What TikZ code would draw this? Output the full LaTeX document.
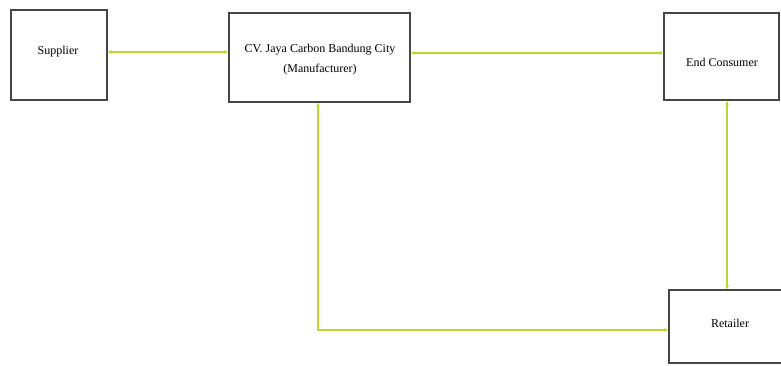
\documentclass[tikz,border=0pt]{standalone}
\usepackage{fontspec}
\setmainfont{Liberation Serif}
\usetikzlibrary{arrows.meta}
\definecolor{lk}{RGB}{190,214,50}
\definecolor{bx}{RGB}{70,70,70}
\begin{document}
\begin{tikzpicture}[x=1pt,y=-1pt,
  boxnode/.style={draw=bx,line width=1.6pt,fill=white,inner sep=0pt},
  label/.style={align=center,font=\fontsize{12}{20}\selectfont},
  link/.style={draw=lk,line width=1.8pt,{Stealth[length=4pt,width=4pt]}-{Stealth[length=4pt,width=4pt]}}]
\useasboundingbox (0,0) rectangle (781,365);
\clip (0,0) rectangle (781,365);
\node[boxnode,minimum width=96pt,minimum height=90pt] (sup) at (59,55) {};
\node[label] (supt) at (58,52) {Supplier};
\node[boxnode,minimum width=181pt,minimum height=89pt] (man) at (319.5,57.5) {};
\node[label] (mant) at (320,60) {CV. Jaya Carbon Bandung City\\(Manufacturer)};
\node[boxnode,minimum width=115pt,minimum height=87pt] (end) at (721.5,56.5) {};
\node[label] (endt) at (722,62) {End Consumer};
\node[boxnode,minimum width=122pt,minimum height=73pt] (ret) at (730,326.5) {};
\node[label] (rett) at (730,323) {Retailer};
\draw[link] (sup.east |- 0,52) -- (man.west |- 0,52);
\draw[link] (man.east |- 0,53) -- (end.west |- 0,53);
\draw[link] (end.south -| 727,0) -- (ret.north -| 727,0);
\coordinate (corner) at (318,330);
\draw[link] (man.south -| 318,0) -- (corner) -- (ret.west |- corner);
\end{tikzpicture}
\end{document}
